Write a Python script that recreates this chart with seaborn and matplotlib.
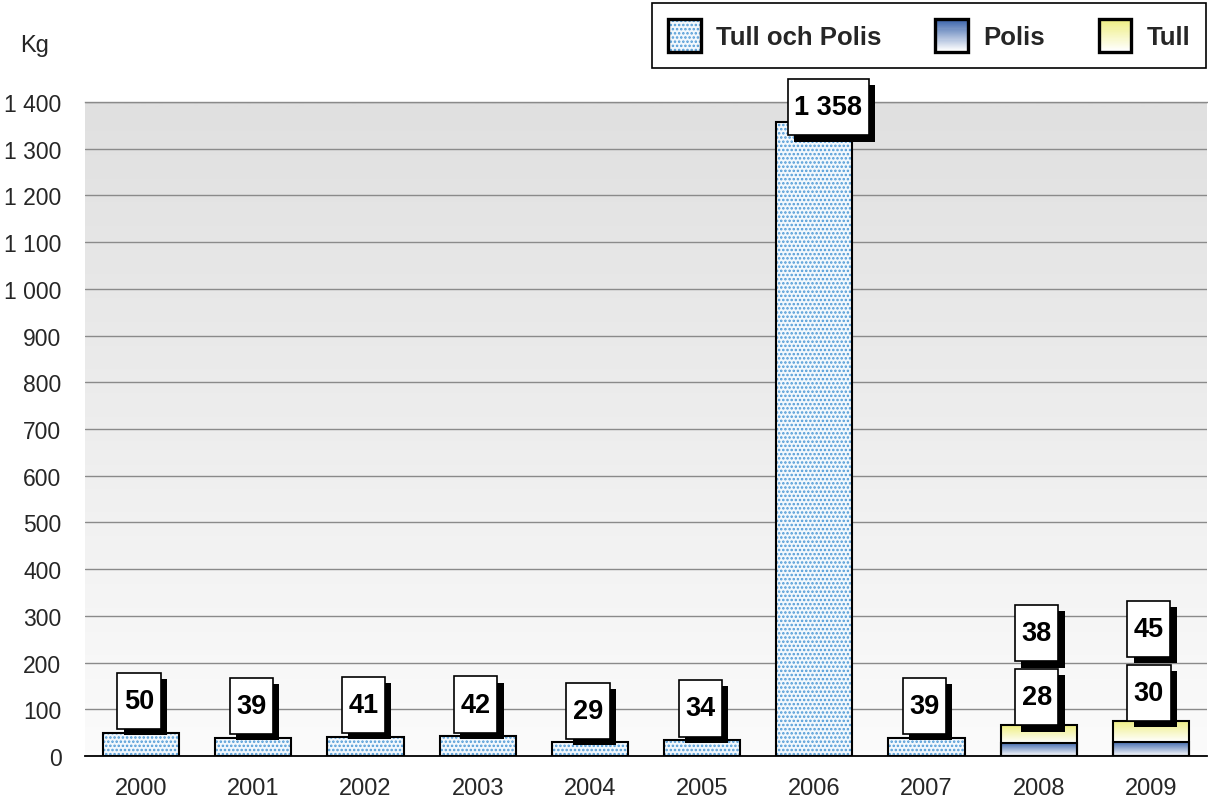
import numpy as np
import pandas as pd
import matplotlib
matplotlib.use("Agg")
import matplotlib.pyplot as plt
import seaborn as sns
from matplotlib.patches import Rectangle, Patch
from matplotlib.path import Path
from matplotlib.ticker import FuncFormatter, FixedLocator
import matplotlib.colors as mcolors
import matplotlib.patheffects as pe

# ---------------- data ----------------
years = ["2000", "2001", "2002", "2003", "2004", "2005", "2006", "2007", "2008", "2009"]
tull_och_polis = [50, 39, 41, 42, 29, 34, 1358, 39, np.nan, np.nan]
polis = [np.nan] * 8 + [28, 30]
tull = [np.nan] * 8 + [38, 45]
y_ticks = list(range(0, 1401, 100))
legend_labels = ["Tull och Polis", "Polis", "Tull"]

# ---------------- style ----------------
sns.set_style("white")
plt.rcParams["font.family"] = ["Liberation Sans", "DejaVu Sans"]
plt.rcParams["hatch.linewidth"] = 1.2

W, H = 1208, 803
fig = plt.figure(figsize=(W / 100, H / 100), dpi=100)
ax = fig.add_axes([85 / W, 46 / H, 1122 / W, 654 / H])
ax.set_facecolor("none")

df = pd.DataFrame({"year": years, "tp": tull_och_polis, "polis": polis, "tull": tull})
df["total"] = df["polis"] + df["tull"]

BAR_W = 0.68
HATCH_FACE = "#f2f8fd"
HATCH_COL = "#4f9ad6"
POLIS_TOP, POLIS_BOT = "#3862aa", "#ffffff"
TULL_TOP, TULL_BOT = "#eeee80", "#ffffff"


def new_patches(n0):
    return [p for p in ax.patches[n0:] if np.isfinite(p.get_height()) and p.get_height() > 0]


def gradient_img(top, bottom, n=64):
    t = np.linspace(0, 1, n)[:, None]
    c0 = np.array(mcolors.to_rgb(top))
    c1 = np.array(mcolors.to_rgb(bottom))
    return (c0 * (1 - t) + c1 * t)[:, None, :]


# Tull och Polis (hatched)
n0 = len(ax.patches)
sns.barplot(data=df, x="year", y="tp", order=years, width=BAR_W, color=HATCH_FACE,
            saturation=1, errorbar=None, ax=ax, zorder=3)
tp_patches = new_patches(n0)
for p in tp_patches:
    p.set_hatch("....")
    p.set_edgecolor(HATCH_COL)
    p.set_linewidth(0)
    ax.add_patch(Rectangle(p.get_xy(), p.get_width(), p.get_height(), fill=False,
                           ec="black", lw=1.5, zorder=4))

# Tull stacked on Polis (total bar, then Polis in front)
n0 = len(ax.patches)
sns.barplot(data=df, x="year", y="total", order=years, width=BAR_W, color="white",
            saturation=1, errorbar=None, ax=ax, zorder=3)
tot_patches = new_patches(n0)
n0 = len(ax.patches)
sns.barplot(data=df, x="year", y="polis", order=years, width=BAR_W, color="white",
            saturation=1, errorbar=None, ax=ax, zorder=3)
pol_patches = new_patches(n0)

for pt, pp in zip(tot_patches, pol_patches):
    x0, w = pt.get_x(), pt.get_width()
    ax.imshow(gradient_img(TULL_TOP, TULL_BOT), extent=(x0, x0 + w, pp.get_height(), pt.get_height()),
              aspect="auto", zorder=3.2, interpolation="bilinear")
    ax.imshow(gradient_img(POLIS_TOP, POLIS_BOT), extent=(x0, x0 + w, 0, pp.get_height()),
              aspect="auto", zorder=3.3, interpolation="bilinear")
for p in tot_patches + pol_patches:
    p.set_facecolor("none")
    p.set_edgecolor("black")
    p.set_linewidth(1.5)
    p.set_zorder(4)

# background gradient of plot area
ax.imshow(gradient_img("#e0e0e0", "#fbfbfb"), extent=(0, 1, 0, 1), transform=ax.transAxes,
          aspect="auto", zorder=0, interpolation="bilinear")

ax.set_xlim(-0.5, len(years) - 0.5)
ax.set_ylim(0, 1400)

# grid & axes
ax.set_yticks(y_ticks)
ax.yaxis.set_major_formatter(FuncFormatter(lambda v, _: f"{int(v):,}".replace(",", " ")))
ax.yaxis.grid(True, color="#8a8a8a", lw=1)
ax.set_axisbelow(True)
for s in ("left", "right"):
    ax.spines[s].set_visible(False)
ax.spines["top"].set_color("#8a8a8a")
ax.spines["top"].set_linewidth(1)
ax.spines["bottom"].set_color("black")
ax.spines["bottom"].set_linewidth(1.3)
ax.spines["bottom"].set_zorder(5)
ax.set_xlabel("")
ax.set_ylabel("")
ax.tick_params(axis="y", length=0, pad=17, labelsize=16.5)
ax.tick_params(axis="x", which="major", length=0, pad=15, labelsize=17)
ax.xaxis.set_minor_locator(FixedLocator(np.arange(-0.5, len(years), 1.0)))
ax.tick_params(axis="x", which="minor", length=8, width=1.3, color="black", direction="out")


# ---------------- value labels ----------------
def tallbox(x0, y0, width, height, mutation_size):
    padx = 0.24 * mutation_size
    pady = 0.56 * mutation_size
    x0, x1 = x0 - padx, x0 + width + padx
    y0, y1 = y0 - pady, y0 + height + pady
    return Path([(x0, y0), (x1, y0), (x1, y1), (x0, y1), (x0, y0)],
                [Path.MOVETO, Path.LINETO, Path.LINETO, Path.LINETO, Path.CLOSEPOLY])


def fmt(v):
    return f"{int(round(v)):,}".replace(",", " ")


def label(x, y, v, dx=-2):
    t = ax.annotate(fmt(v), xy=(x, y), xytext=(dx, 0), textcoords="offset pixels",
                    ha="center", va="center", fontsize=19.5, fontweight="bold",
                    color="black", annotation_clip=False, zorder=7,
                    bbox=dict(boxstyle=tallbox, fc="white", ec="black", lw=1.2))
    t.get_bbox_patch().set_path_effects([
        pe.SimplePatchShadow(offset=(4.5, -4.5), shadow_rgbFace="black", alpha=1),
        pe.Normal()])


TOP_CAP = 1389
for i, v in enumerate(tull_och_polis):
    if np.isfinite(v):
        y = v + 68
        if y > TOP_CAP:
            label(i, TOP_CAP, v, dx=14)
        else:
            label(i, y, v)
for i, (pv, tv) in enumerate(zip(polis, tull)):
    if np.isfinite(pv):
        base = pv + tv + 60
        label(i, base, pv)
        label(i, base + 137, tv)


# ---------------- legend ----------------
class BoxHandler:
    def __init__(self, kind, top=None, bottom=None):
        self.kind, self.top, self.bottom = kind, top, bottom

    def legend_artist(self, legend, orig_handle, fontsize, handlebox):
        x0, y0 = -handlebox.xdescent, -handlebox.ydescent
        w, h = handlebox.width, handlebox.height
        if self.kind == "hatch":
            handlebox.add_artist(Rectangle((x0, y0), w, h, facecolor=HATCH_FACE,
                                           edgecolor=HATCH_COL, hatch="....", lw=0))
        else:
            n = 30
            c0 = np.array(mcolors.to_rgb(self.top))
            c1 = np.array(mcolors.to_rgb(self.bottom))
            for k in range(n):
                t = k / (n - 1)
                col = c0 * (1 - t) + c1 * t
                handlebox.add_artist(Rectangle((x0, y0 + h - (k + 1) * h / n), w, h / n + 0.3,
                                               facecolor=col, lw=0))
        border = Rectangle((x0, y0), w, h, fill=False, ec="black", lw=2.4)
        handlebox.add_artist(border)
        return border


h1, h2, h3 = Patch(), Patch(), Patch()
leg = fig.legend(handles=[h1, h2, h3], labels=legend_labels,
                 handler_map={h1: BoxHandler("hatch"),
                              h2: BoxHandler("grad", POLIS_TOP, POLIS_BOT),
                              h3: BoxHandler("grad", TULL_TOP, TULL_BOT)},
                 loc="upper right", bbox_to_anchor=(1206 / W, 1 - 4 / H), ncol=3,
                 frameon=True, fancybox=False, edgecolor="black", framealpha=1,
                 prop=dict(weight="bold", size=18.5), handlelength=1.28, handleheight=1.6,
                 handletextpad=0.58, columnspacing=2.1, borderpad=0.62, borderaxespad=0)
leg.get_frame().set_linewidth(1.2)

fig.text(20 / W, 1 - 46 / H, "Kg", fontsize=17, ha="left", va="center")

fig.savefig("out.png", dpi=100)
